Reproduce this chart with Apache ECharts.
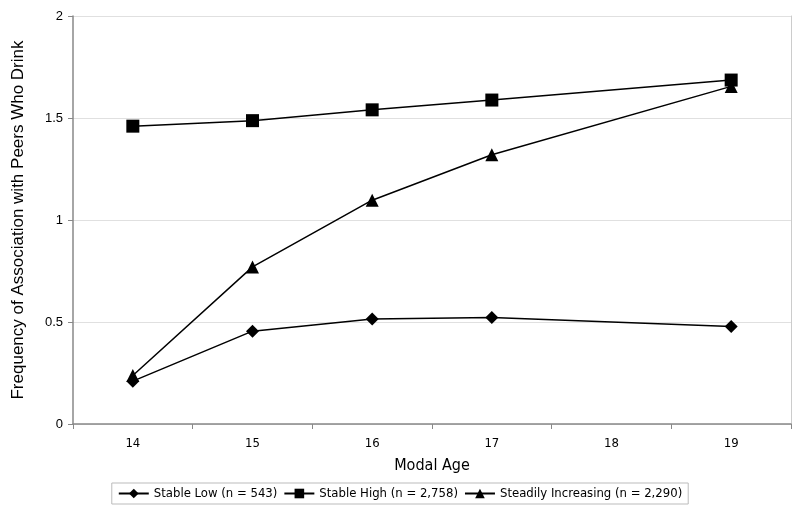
<!DOCTYPE html>
<html><head><meta charset="utf-8">
<script src="https://cdn.jsdelivr.net/npm/echarts@6/dist/echarts.min.js"></script>
<style>html,body{margin:0;padding:0;background:#fff}#c{width:800px;height:514px}</style>
</head><body><div id="c"></div>
<script>
var categories = ['14','15','16','17','18','19'];
var stableLow = [0.21, 0.455, 0.515, 0.522, null, 0.478];
var stableHigh = [1.46, 1.487, 1.54, 1.588, null, 1.686];
var steadilyIncreasing = [0.238, 0.77, 1.097, 1.32, null, 1.655];
var seriesNames = ['Stable Low (n = 543)', 'Stable High (n = 2,758)', 'Steadily Increasing (n = 2,290)'];

var narrow = '"DejaVu Sans Condensed", "Liberation Sans Narrow", "Liberation Sans", Arial, sans-serif';
var sans = '"Liberation Sans", Arial, sans-serif';
var chart = echarts.init(document.getElementById('c'), null, {renderer:'canvas'});
function mk(name, data, symbol, size){
  return {name:name, type:'line', data:data, connectNulls:true, symbol:symbol, symbolSize:size,
    itemStyle:{color:'#000'}, lineStyle:{color:'#000', width:1.5}, animation:false};
}
chart.setOption({
  animation:false,
  grid:{left:73, right:9, top:16, bottom:90, containLabel:false, outerBoundsMode:'none'},
  legend:{
    top:483, left:'center', itemGap:6, itemWidth:30, itemHeight:12,
    borderColor:'#bbb', borderWidth:1, padding:[4,6], borderRadius:0,
    textStyle:{fontFamily:narrow, fontSize:13, color:'#000'},
    data:seriesNames
  },
  xAxis:{
    type:'category', data:categories, boundaryGap:true,
    name:'Modal Age', nameLocation:'middle', nameGap:34,
    nameTextStyle:{fontFamily:narrow, fontSize:16, color:'#000'},
    axisLine:{lineStyle:{color:'#888', width:1.5}},
    axisTick:{show:true, alignWithLabel:false, length:5, lineStyle:{color:'#888'}},
    axisLabel:{fontFamily:narrow, fontSize:13, color:'#000', margin:13}
  },
  yAxis:[{
    type:'value', min:0, max:2, interval:0.5,
    name:'Frequency of Association with Peers Who Drink', nameLocation:'middle', nameGap:46,
    nameTextStyle:{fontFamily:sans, fontSize:17, color:'#000'},
    axisLine:{show:true, lineStyle:{color:'#888', width:1.5}},
    axisTick:{show:true, length:5, lineStyle:{color:'#888'}},
    axisLabel:{fontFamily:sans, fontSize:13, color:'#000', margin:10},
    splitLine:{lineStyle:{color:'#e0e0e0', width:1}}
  },{
    type:'value', min:0, max:2, position:'right',
    axisLine:{show:true, lineStyle:{color:'#ccc', width:1}},
    axisTick:{show:false}, axisLabel:{show:false}, splitLine:{show:false}
  }],
  series:[
    mk(seriesNames[0], stableLow, 'diamond', 13),
    mk(seriesNames[1], stableHigh, 'rect', 13),
    mk(seriesNames[2], steadilyIncreasing, 'triangle', 13)
  ]
});
</script></body></html>
